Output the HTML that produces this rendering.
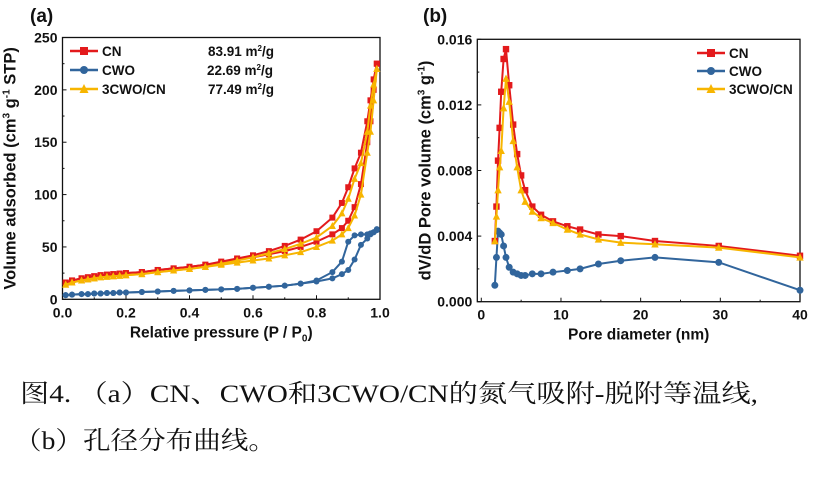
<!DOCTYPE html>
<html><head><meta charset="utf-8"><style>
body{margin:0;background:#fff}
svg{display:block}
text{font-family:"Liberation Sans",Arial,sans-serif;font-weight:bold;fill:#111}
.cap{font-family:"Liberation Serif","Noto Serif CJK SC",serif;font-weight:normal;font-size:25px}
</style></head><body>
<svg id="s" width="813" height="481" viewBox="0 0 813 481" xmlns="http://www.w3.org/2000/svg">
<text x="30" y="22" font-size="19">(a)</text>
<text x="423" y="22" font-size="19">(b)</text>
<g id="ga"></g>
<g id="gb"></g>
<text class="cap" x="20" y="402" textLength="738" lengthAdjust="spacingAndGlyphs">图4. （a）CN、CWO和3CWO/CN的氮气吸附-脱附等温线,</text>
<text class="cap" x="14" y="449" textLength="262" lengthAdjust="spacingAndGlyphs">（b）孔径分布曲线。</text>
</svg>
<script>
// Panel (a) data
const aX=[0.01,0.03,0.06,0.08,0.1,0.12,0.14,0.16,0.18,0.2,0.25,0.3,0.35,0.4,0.45,0.5,0.55,0.6,0.65,0.7,0.75,0.8,0.85,0.88,0.9,0.92,0.94,0.96,0.97,0.98,0.99];
const cnAds=[16,18,20,21,22,23,23.5,24,24.5,25,26,28,29.5,31,33,35,38,40,43,46,50,55,62,68,75,88,110,150,170,200,225];
const cnDes=[16,18,20,21,22,23,23.5,24,24.5,25,26,28,29.5,31,33,36,39,42,46,51,57,65,78,92,107,125,140,170,190,210,225];
const yAds=[14,16,18,19,20,21,21.5,22,22.5,23,24,26,27.5,29,31,33,35,37,39,42,45,50,56,62,68,80,100,140,160,190,220];
const yDes=[14,16,18,19,20,21,21.5,22,22.5,23,24,26,27.5,29,31,34,37,40,44,48,53,59,70,82,96,115,130,160,185,205,220];
const wAds=[4,4.5,5,5,5.5,5.5,6,6,6.5,6.5,7,7.5,8,8.5,9,9.5,10,11,12,13,15,17,20,24,28,38,52,58,62,64,66];
const wDes=[4,4.5,5,5,5.5,5.5,6,6,6.5,6.5,7,7.5,8,8.5,9,9.5,10,11,12,13,15,18,26,36,55,61,62,62,63,64,67];
const aXTicks=[0,0.2,0.4,0.6,0.8,1.0];
const aYTicks=[0,50,100,150,200,250];
// Panel (b) data
const bX=[1.7,1.9,2.1,2.3,2.5,2.8,3.1,3.5,4,4.5,5,5.5,6.4,7.5,9,10.8,12.4,14.7,17.5,21.8,29.8,40];
const cnPSD=[0.0037,0.0058,0.0086,0.0106,0.0128,0.0148,0.0154,0.0132,0.0108,0.009,0.0077,0.0068,0.0058,0.0053,0.0049,0.0046,0.0044,0.0041,0.004,0.0037,0.0034,0.0028];
const cwoPSD=[0.001,0.0027,0.0043,0.0042,0.0041,0.0034,0.0027,0.0021,0.0018,0.0017,0.0016,0.0016,0.0017,0.0017,0.0018,0.0019,0.002,0.0023,0.0025,0.0027,0.0024,0.0007];
const c3PSD=[0.0037,0.0052,0.0068,0.0082,0.0092,0.0118,0.0136,0.0122,0.0098,0.0082,0.0068,0.0061,0.0055,0.0051,0.0048,0.0044,0.0041,0.0038,0.0036,0.0035,0.0033,0.0027];
const bXTicks=[0,10,20,30,40];
const bYTicks=["0.000","0.004","0.008","0.012","0.016"];

const NS="http://www.w3.org/2000/svg";
function mk(p,t,a){const e=document.createElementNS(NS,t);for(const k in a)e.setAttribute(k,a[k]);p.appendChild(e);return e;}
const RED="#e31a1c",BLUE="#31659c",YEL="#f7b500";

function marker(g,type,x,y,c,s){
  let e;
  if(type==='sq') e=mk(g,'rect',{x:x-s,y:y-s,width:2*s,height:2*s,fill:c});
  else if(type==='ci') e=mk(g,'circle',{cx:x,cy:y,r:s,fill:c});
  else e=mk(g,'polygon',{points:`${x},${y-s-1} ${x-s-0.5},${y+s} ${x+s+0.5},${y+s}`,fill:c});
  return e;
}
function series(g,xs,ys,sx,sy,c,type,name,s){
  const sg=mk(g,'g',{});
  
  
  mk(sg,'polyline',{points:xs.map((x,i)=>sx(x)+','+sy(ys[i])).join(' '),fill:'none',stroke:c,'stroke-width':2});
  xs.forEach((x,i)=>{const m=marker(sg,type,sx(x),sy(ys[i]),c,s);
    
    });
}
function frame(g,L,R,T,B,xt,sx,yt,sy,xTitle,yTitle,xMinor,yMinor,yLen){
  mk(g,'rect',{x:L,y:T,width:R-L,height:B-T,fill:'none',stroke:'#111','stroke-width':1.3});
  xt.forEach(v=>{const x=sx(+v);mk(g,'line',{x1:x,x2:x,y1:B,y2:B-4,stroke:'#111'});
    const t=mk(g,'text',{x:x,y:B+18,'font-size':14,'text-anchor':'middle'});t.textContent=v;
    
    });
  xMinor.forEach(v=>{const x=sx(v);mk(g,'line',{x1:x,x2:x,y1:B,y2:B-2,stroke:'#111'});});
  yt.forEach(v=>{const y=sy(+v);mk(g,'line',{x1:L,x2:L+4,y1:y,y2:y,stroke:'#111'});
    const t=mk(g,'text',{x:L-5,y:y+5,'font-size':14,'text-anchor':'end'});t.textContent=v;
    
    });
  yMinor.forEach(v=>{const y=sy(v);mk(g,'line',{x1:L,x2:L+2,y1:y,y2:y,stroke:'#111'});});
  const xt2=mk(g,'text',{x:(L+R)/2,y:B+38,'font-size':15.5,'text-anchor':'middle'});xt2.innerHTML=xTitle;
  
  
  const yt2=mk(g,'text',{x:0,y:0,'font-size':16.5,'text-anchor':'middle',transform:`translate(${L-47},${(T+B)/2}) rotate(-90)`});yt2.innerHTML=yTitle;
  
  
}
function legend(g,x,y,c,type,label,val,vx){
  const lg=mk(g,'g',{});
  
  
  mk(lg,'line',{x1:x,x2:x+28,y1:y,y2:y,stroke:c,'stroke-width':2.5});
  marker(lg,type,x+14,y,c,4);
  const t=mk(lg,'text',{x:x+32,y:y+5,'font-size':13.5});t.textContent=label;
  if(val){const v=mk(lg,'text',{x:vx,y:y+5,'font-size':13.5});v.innerHTML=val;}
}
// Panel a
(function(){
  const g=document.getElementById('ga');
  const L=62.5,R=380,T=37.5,B=299.3;
  const sx=v=>L+v*(R-L), sy=v=>B-v/250*(B-T);
  frame(g,L,R,T,B,aXTicks.map(v=>v.toFixed(1)),sx,aYTicks.map(String),sy,
    'Relative pressure (P / P<tspan font-size="10" dy="4">0</tspan><tspan dy="-4">)</tspan>',
    'Volume adsorbed (cm<tspan font-size="10" dy="-6">3</tspan><tspan dy="6"> g</tspan><tspan font-size="10" dy="-6">-1</tspan><tspan dy="6"> STP)</tspan>',
    [0.1,0.3,0.5,0.7,0.9],[25,75,125,175,225]);
  series(g,aX,wDes,sx,sy,BLUE,'ci','cwo-desorption',3);
  series(g,aX,wAds,sx,sy,BLUE,'ci','cwo-adsorption',3);
  series(g,aX,cnDes,sx,sy,RED,'sq','cn-desorption',3);
  series(g,aX,cnAds,sx,sy,RED,'sq','cn-adsorption',3);
  series(g,aX,yDes,sx,sy,YEL,'tr','3cwo-cn-desorption',3);
  series(g,aX,yAds,sx,sy,YEL,'tr','3cwo-cn-adsorption',3);
  legend(g,70,51,RED,'sq','CN','83.91 m<tspan font-size="8" dy="-5">2</tspan><tspan dy="5">/g</tspan>',208);
  legend(g,70,70,BLUE,'ci','CWO','22.69 m<tspan font-size="8" dy="-5">2</tspan><tspan dy="5">/g</tspan>',207);
  legend(g,70,89,YEL,'tr','3CWO/CN','77.49 m<tspan font-size="8" dy="-5">2</tspan><tspan dy="5">/g</tspan>',208);
})();
// Panel b
(function(){
  const g=document.getElementById('gb');
  const L=477.3,R=800,T=39.3,B=301.7;
  const sx=v=>481.3+v*(800-481.3)/40, sy=v=>B-v/0.016*(B-T);
  frame(g,L,R,T,B,bXTicks.map(String),sx,bYTicks,sy,'Pore diameter (nm)',
    'dV/dD Pore volume (cm<tspan font-size="10" dy="-6">3</tspan><tspan dy="6"> g</tspan><tspan font-size="10" dy="-6">-1</tspan><tspan dy="6">)</tspan>',
    [5,15,25,35],[0.002,0.006,0.01,0.014]);
  series(g,bX,cwoPSD,sx,sy,BLUE,'ci','cwo-psd',3.5);
  series(g,bX,cnPSD,sx,sy,RED,'sq','cn-psd',3.2);
  series(g,bX,c3PSD,sx,sy,YEL,'tr','3cwo-cn-psd',3.2);
  legend(g,697,53,RED,'sq','CN');
  legend(g,697,71,BLUE,'ci','CWO');
  legend(g,697,89,YEL,'tr','3CWO/CN');
})();
</script>
</body></html>
